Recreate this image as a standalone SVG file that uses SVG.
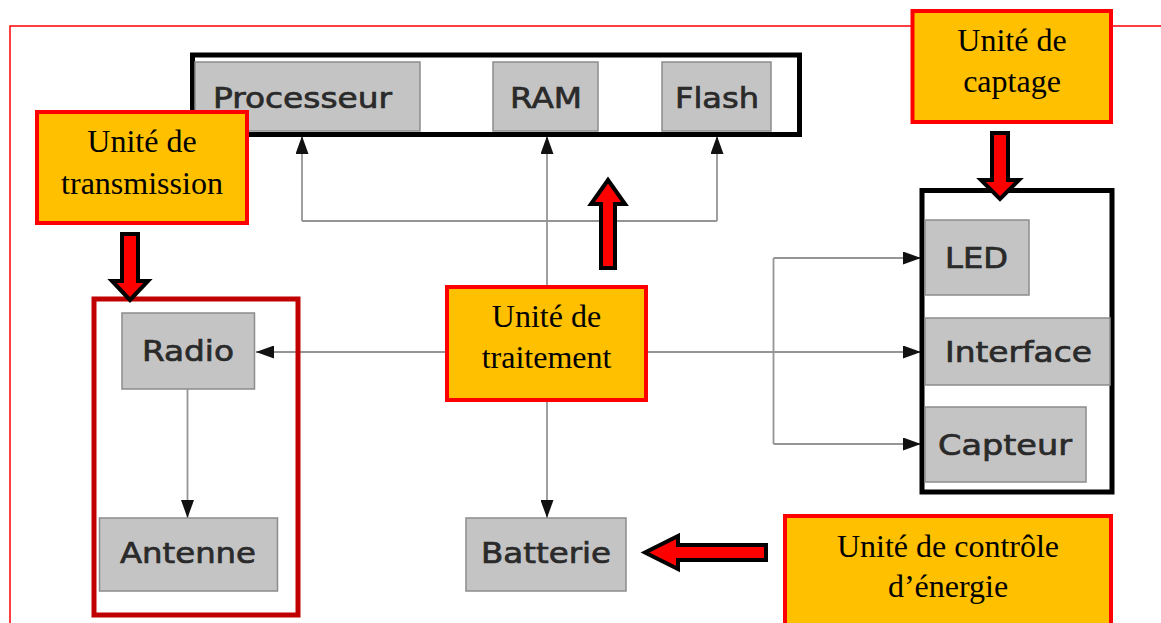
<svg xmlns="http://www.w3.org/2000/svg" width="1161" height="623" viewBox="0 0 1161 623">
<style>
.frame{fill:none;stroke:#FF0000;stroke-width:1.5}
.blk{fill:none;stroke:#000;stroke-width:5}
.redbox{fill:none;stroke:#C00000;stroke-width:5}
.gray{fill:#C4C4C4;stroke:#8C8C8C;stroke-width:1.5}
.lbl{font-family:"DejaVu Sans",Verdana,sans-serif;font-size:29px;fill:#2A2A2A;stroke:#2A2A2A;stroke-width:0.7;text-anchor:middle}
.call{fill:#FFC000;stroke:#FF0000;stroke-width:4}
.ctext{font-family:"Liberation Serif","Times New Roman",serif;font-size:32px;fill:#000;text-anchor:middle}
.con{fill:none;stroke:#959595;stroke-width:1.8;marker-end:url(#ah)}
.conp{fill:none;stroke:#959595;stroke-width:1.8}
.big{fill:#FF0000;stroke:#000;stroke-width:4;stroke-linejoin:miter}
</style>
<defs>
<marker id="ah" markerUnits="userSpaceOnUse" markerWidth="18" markerHeight="13" refX="18" refY="6.5" orient="auto">
<path d="M0,0 L18,6.5 L0,13 Z" fill="#111"/>
</marker>
</defs>
<rect width="1161" height="623" fill="#fff"/>
<path class="frame" d="M10,623 V26 H1161"/>

<g id="connectors">
<path class="con" d="M302,221 V136"/>
<path class="conp" d="M302,221 H717"/>
<path class="con" d="M717,221 V136"/>
<path class="con" d="M547,285 V136"/>
<path class="con" d="M445,352 H256"/>
<path class="con" d="M187.5,389 V518"/>
<path class="con" d="M547,402 V518"/>
<path class="con" d="M648,352 H921"/>
<path class="conp" d="M773.5,258 V444"/>
<path class="con" d="M773.5,258 H921"/>
<path class="con" d="M773.5,444 H921"/>
</g>

<g id="top-group">
<rect class="blk" x="192.5" y="55" width="607" height="79.5"/>
</g>
<g id="processeur"><rect class="gray" x="195" y="62" width="225" height="69"/><text class="lbl" x="302.5" y="108" textLength="179" lengthAdjust="spacingAndGlyphs">Processeur</text></g>
<g id="ram"><rect class="gray" x="493" y="62" width="105" height="69"/><text class="lbl" x="546" y="108" textLength="72" lengthAdjust="spacingAndGlyphs">RAM</text></g>
<g id="flash"><rect class="gray" x="662" y="62" width="109" height="69"/><text class="lbl" x="717" y="108" textLength="84" lengthAdjust="spacingAndGlyphs">Flash</text></g>

<g id="transmission-group"><rect class="redbox" x="94" y="299" width="204" height="316"/></g>
<g id="radio"><rect class="gray" x="122" y="313" width="132.5" height="76"/><text class="lbl" x="188" y="361" textLength="92" lengthAdjust="spacingAndGlyphs">Radio</text></g>
<g id="antenne"><rect class="gray" x="99.5" y="518" width="178" height="73"/><text class="lbl" x="188" y="563" textLength="136" lengthAdjust="spacingAndGlyphs">Antenne</text></g>
<g id="batterie"><rect class="gray" x="466" y="518" width="160" height="73"/><text class="lbl" x="546" y="563" textLength="130" lengthAdjust="spacingAndGlyphs">Batterie</text></g>

<g id="captage-group"><rect class="blk" x="922" y="190.5" width="190" height="301.5"/></g>
<g id="led"><rect class="gray" x="925" y="220" width="104" height="75"/><text class="lbl" x="976.5" y="268" textLength="63" lengthAdjust="spacingAndGlyphs">LED</text></g>
<g id="interface"><rect class="gray" x="925" y="318" width="185" height="67"/><text class="lbl" x="1018.5" y="362" textLength="147" lengthAdjust="spacingAndGlyphs">Interface</text></g>
<g id="capteur"><rect class="gray" x="925" y="407" width="161" height="75"/><text class="lbl" x="1005" y="455" textLength="134" lengthAdjust="spacingAndGlyphs">Capteur</text></g>

<g id="unite-transmission"><rect class="call" x="37" y="112" width="210" height="111"/><text class="ctext" x="142" y="152">Unité de</text><text class="ctext" x="142" y="194">transmission</text></g>
<g id="unite-captage"><rect class="call" x="912.5" y="11" width="198.5" height="111"/><text class="ctext" x="1012" y="51">Unité de</text><text class="ctext" x="1012" y="92">captage</text></g>
<g id="unite-traitement"><rect class="call" x="447" y="287" width="199" height="113"/><text class="ctext" x="546.5" y="327">Unité de</text><text class="ctext" x="546.5" y="368">traitement</text></g>
<g id="unite-controle"><rect class="call" x="785" y="516" width="326" height="120"/><text class="ctext" x="948" y="557">Unité de contrôle</text><text class="ctext" x="948" y="597">d’énergie</text></g>

<g id="pointers">
<path class="big" d="M122,234 H138 V281 H148 L130,300 L112,281 H122 Z"/>
<path class="big" d="M601,268 H615 V204 H625 L608,180 L591,204 H601 Z"/>
<path class="big" d="M992,133 H1008 V180 H1019 L1000,199 L981,180 H992 Z"/>
<path class="big" d="M766,545 V560 H678 V569 L645,552.5 L678,536 V545 Z"/>
</g>
</svg>
